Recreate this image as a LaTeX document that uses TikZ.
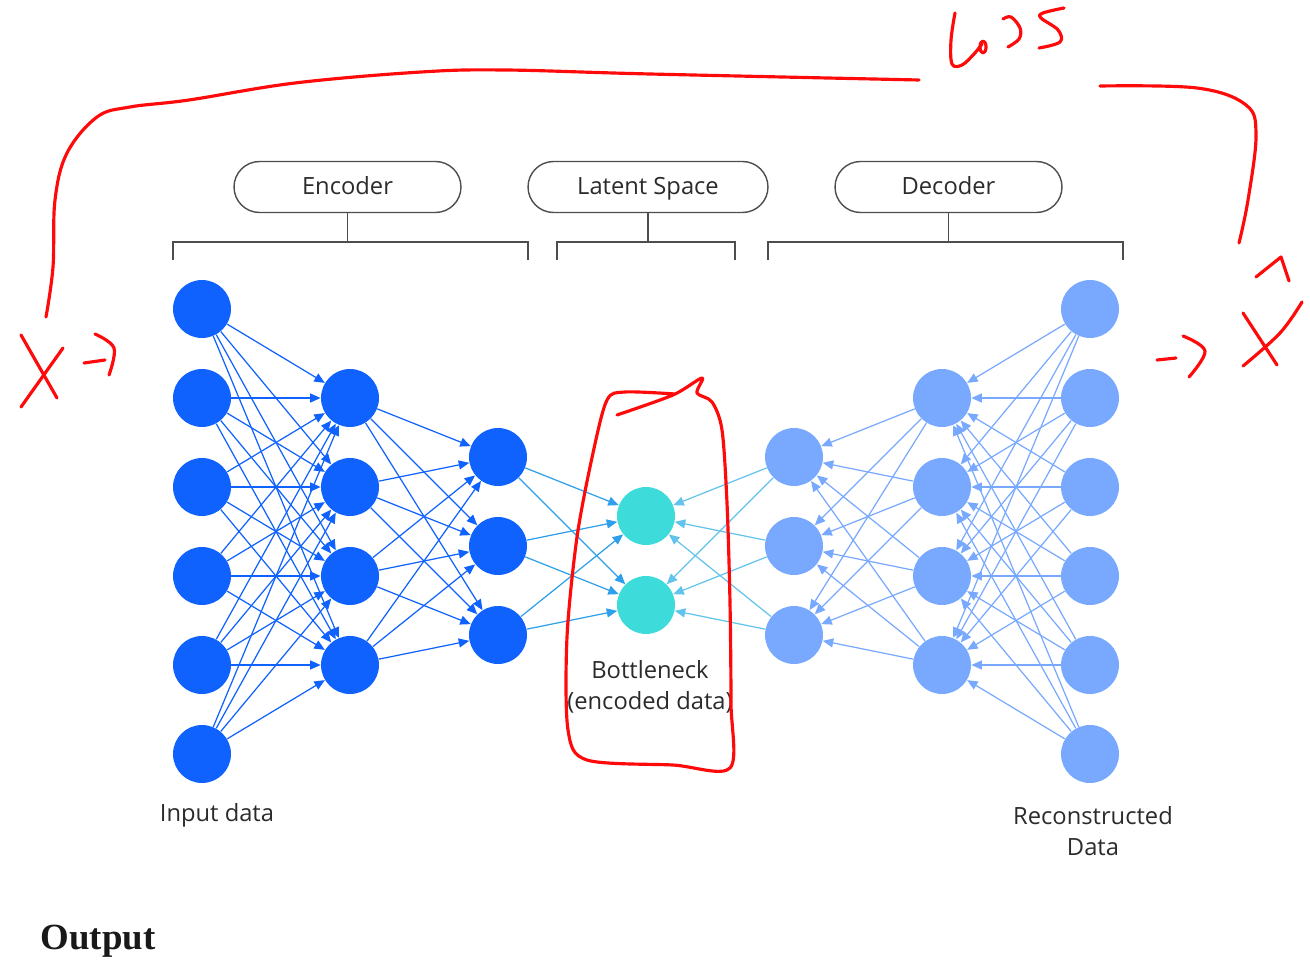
\documentclass[tikz,border=0pt]{standalone}
\usepackage{fontspec}
\setmainfont{Open Sans}
\newfontfamily\titlefont{Liberation Serif}
\usetikzlibrary{arrows.meta,positioning}
\definecolor{enccolor}{HTML}{0F62FE}
\definecolor{deccolor}{HTML}{78A9FF}
\definecolor{latcolor}{HTML}{3DDBD9}
\definecolor{zinwire}{HTML}{2E9FEA}
\definecolor{zoutwire}{HTML}{62C3EC}
\definecolor{inkcolor}{HTML}{FF0A0A}
\definecolor{textcolor}{HTML}{2B2B2B}
\definecolor{framecolor}{HTML}{4D4D4D}

\begin{document}
\begin{tikzpicture}[
        x=0.02cm, y=-0.02cm,
        neuron/.style={circle, minimum size=1.16cm, inner sep=0pt},
        enc/.style={neuron, fill=enccolor},
        dec/.style={neuron, fill=deccolor},
        lat/.style={neuron, fill=latcolor},
        header/.style={draw=framecolor, line width=0.8pt, rounded corners=0.51cm, minimum width=4.54cm, minimum height=1.02cm, text height=1.9ex, text depth=0.3ex, font=\fontsize{13.5}{16}\selectfont, text=textcolor},
        datalabel/.style={font=\fontsize{13.5}{18}\selectfont, text=textcolor, align=center},
        wire/.style={-{Triangle[length=0.21cm,width=0.18cm]}, line width=0.7pt},
        bracket/.style={draw=framecolor, line width=0.7pt},
        ink/.style={draw=inkcolor, line width=1.8pt, line cap=round, line join=round}
    ]
        \useasboundingbox (0,0) rectangle (1310,962);

        % layers
        \foreach \i/\y in {1/309,2/398,3/487,4/576,5/665,6/754} {
            \node[enc] (in\i) at (202,\y) {};
            \node[dec] (out\i) at (1090,\y) {};
        }
        \foreach \i/\y in {1/398,2/487,3/576,4/665} {
            \node[enc] (e\i) at (350,\y) {};
            \node[dec] (g\i) at (942,\y) {};
        }
        \foreach \i/\y in {1/457,2/546,3/635} {
            \node[enc] (f\i) at (498,\y) {};
            \node[dec] (d\i) at (794,\y) {};
        }
        \node[lat] (z1) at (646,516) {};
        \node[lat] (z2) at (646,605) {};

        % connections
        \foreach \i in {1,...,6} \foreach \j in {1,...,4} \draw[wire, enccolor] (in\i) -- (e\j);
        \foreach \i in {1,...,4} \foreach \j in {1,2,3} \draw[wire, enccolor] (e\i) -- (f\j);
        \foreach \i in {1,2,3} \foreach \j in {1,2} \draw[wire, zinwire] (f\i) -- (z\j);
        \foreach \i in {1,...,6} \foreach \j in {1,...,4} \draw[wire, deccolor] (out\i) -- (g\j);
        \foreach \i in {1,...,4} \foreach \j in {1,2,3} \draw[wire, deccolor] (g\i) -- (d\j);
        \foreach \i in {1,2,3} \foreach \j in {1,2} \draw[wire, zoutwire] (d\i) -- (z\j);

        % headers and brackets
        \node[header] (encoder) at (347.5,187) {Encoder};
        \node[header, minimum width=4.8cm] (latent) at (648,187) {Latent Space};
        \node[header] (decoder) at (948.5,187) {Decoder};
        \draw[bracket] (encoder.south) -- (encoder.south |- 0,242);
        \draw[bracket] (latent.south) -- (latent.south |- 0,242);
        \draw[bracket] (decoder.south) -- (decoder.south |- 0,242);
        \draw[bracket] (173,260) -- (173,242) -- (528,242) -- (528,260);
        \draw[bracket] (557,260) -- (557,242) -- (735,242) -- (735,260);
        \draw[bracket] (768,260) -- (768,242) -- (1123,242) -- (1123,260);

        \node[datalabel] (inlabel) at (217,815) {Input data};
        \node[datalabel] (zlabel) at (650,687) {Bottleneck\\(encoded data)};
        \node[datalabel] (outlabel) at (1093,831) {Reconstructed\\Data};
        \node[font=\titlefont\bfseries\fontsize{21}{24}\selectfont, text=black!90] (outputtitle) at (98,941) {Output};

        % handwritten notes
        \draw[ink] plot[smooth, tension=0.6] coordinates {(46,317) (53,267) (55,200) (67,153) (97,117) (130,107) (189,100) (295,83) (421,72) (505,70) (650,74) (919,80)};
        \draw[ink] plot[smooth, tension=0.6] coordinates {(1100,86) (1197,88) (1246,105) (1256,135) (1248,200) (1239,243)};
        \draw[ink] plot[smooth, tension=0.6] coordinates {(955,13) (951,40) (952,64) (962,65) (974,54) (982,44)};
        \draw[ink] (983,47) ellipse (3 and 6);
        \draw[ink] plot[smooth, tension=0.6] coordinates {(1003,19) (1011,17) (1020,28) (1019,39) (1008,47)};
        \draw[ink] plot[smooth, tension=0.6] coordinates {(1064,8) (1043,13) (1041,18) (1058,30) (1060,42) (1039,48)};
        % x ->
        \draw[ink] (21,335) -- (57,398);
        \draw[ink] (63,348) -- (21,407);
        \draw[ink] (84,363) -- (105,360);
        \draw[ink] plot[smooth, tension=0.6] coordinates {(95,334) (114,348) (109,375)};
        % -> x hat
        \draw[ink] (1157,360) -- (1176,358);
        \draw[ink] plot[smooth, tension=0.6] coordinates {(1183,336) (1205,351) (1189,377)};
        \draw[ink] (1243,313) -- (1277,365);
        \draw[ink] plot[smooth, tension=0.6] coordinates {(1302,302) (1280,333) (1243,366)};
        \draw[ink] (1256,277) -- (1281,257) -- (1289,281);
        % bottleneck loop
        \draw[ink] plot[smooth, tension=0.5] coordinates {(617,415) (673,395) (702,378) (697,393) (712,402) (722,430) (727,503) (730,603) (731,703) (730,768) (673,765) (587,760) (568,730) (567,637) (577,537) (593,453) (607,400) (625,392) (675,394)};
    \end{tikzpicture}
\end{document}
